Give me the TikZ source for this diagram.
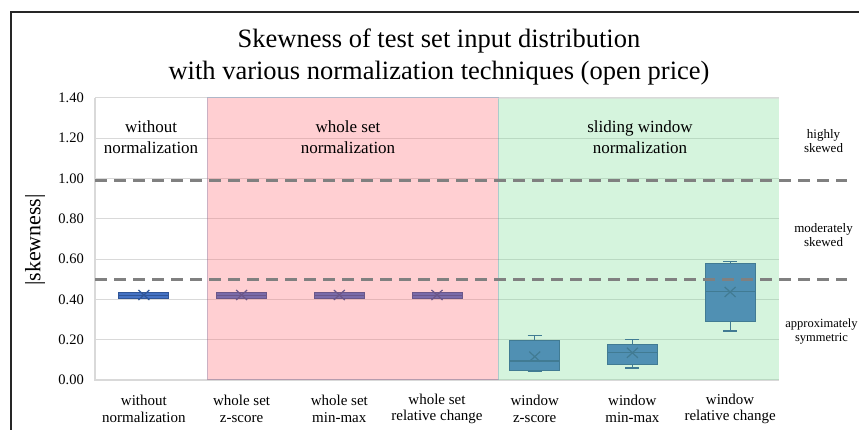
\documentclass[tikz,border=0pt]{standalone}
\usepackage{fontspec}
\setmainfont{Liberation Serif}

\definecolor{boxfill}{RGB}{68,114,196}
\definecolor{boxline}{RGB}{47,85,151}
\definecolor{gridgray}{RGB}{217,217,217}
\definecolor{wholepink}{RGB}{255,93,103}
\definecolor{windowgreen}{RGB}{112,218,138}
\definecolor{dashgray}{RGB}{128,128,128}
\definecolor{framegray}{RGB}{38,38,38}

\tikzset{
  ticklabel/.style={anchor=east, inner sep=0pt, font=\fontsize{14.5}{16}\selectfont},
  catlabel/.style={align=center, inner sep=0pt, font=\fontsize{15}{16.3}\selectfont},
  grouplabel/.style={align=center, inner sep=0pt, font=\fontsize{17}{20.7}\selectfont},
  zonelabel/.style={align=center, inner sep=0pt, font=\fontsize{13}{14}\selectfont},
  skewbox/.style={fill=boxfill, draw=boxline, line width=1pt},
  whisker/.style={draw=boxline, line width=1.2pt},
  limitline/.style={dashgray, line width=2.6pt, dash pattern=on 12pt off 7pt},
}

% #1 x centre, #2 min, #3 q1, #4 median, #5 q3, #6 max, #7 mean
\newcommand{\skewplot}[7]{
  \draw[whisker] (#1,#2) -- (#1,#3) (#1,#5) -- (#1,#6);
  \draw[whisker] (#1-7,#2) -- (#1+7,#2) (#1-7,#6) -- (#1+7,#6);
  \draw[skewbox] (#1-25,#3) rectangle (#1+25,#5);
  \draw[whisker] (#1-25,#4) -- (#1+25,#4);
  \draw[whisker] (#1-5.5,#7-0.025) -- (#1+5.5,#7+0.025) (#1-5.5,#7+0.025) -- (#1+5.5,#7-0.025);
}

\begin{document}
\begin{tikzpicture}[x=1pt, y=1pt]
  \useasboundingbox (0,0) rectangle (859,430);
  \clip (0,0) rectangle (859,430);
  \fill[white] (0,0) rectangle (859,430);
  \draw[framegray, line width=1.6pt] (11,-2) -- (11,418) -- (861,418);

  \node[align=center, font=\fontsize{26.5}{31}\selectfont] (title) at (439,373)
    {Skewness of test set input distribution\\with various normalization techniques (open price)};
  \node[rotate=90, font=\fontsize{22}{24}\selectfont] (ylabel) at (35,190) {|skewness|};

  \begin{scope}[yshift=50pt, y=201.43pt]
    \foreach \v in {0.2,0.4,...,1.4}
      \draw[gridgray, line width=1pt] (95,\v) -- (779,\v);
    \draw[gridgray, line width=1.2pt] (95,1.4) -- (95,0) -- (779,0);

    \skewplot{143.9}{0.405}{0.407}{0.42}{0.433}{0.435}{0.422}
    \skewplot{241.6}{0.405}{0.407}{0.42}{0.433}{0.435}{0.422}
    \skewplot{339.3}{0.405}{0.407}{0.42}{0.433}{0.435}{0.422}
    \skewplot{437.0}{0.405}{0.407}{0.42}{0.433}{0.435}{0.422}
    \skewplot{534.7}{0.043}{0.046}{0.094}{0.194}{0.22}{0.116}
    \skewplot{632.4}{0.06}{0.078}{0.137}{0.177}{0.20}{0.135}
    \skewplot{730.1}{0.243}{0.29}{0.44}{0.58}{0.59}{0.437}

    \begin{scope}[fill opacity=.29]
      \fill[wholepink] (207,0) rectangle (498,1.4);
      \fill[windowgreen] (498,0) rectangle (779,1.4);
    \end{scope}
    \draw[draw=boxline, draw opacity=.25, line width=1pt] (207,0) rectangle (498,1.4);
    \draw[draw=gridgray, draw opacity=.6, line width=0.8pt] (498,1.4) -- (779,1.4);

    \draw[limitline] (95,0.99) -- (847,0.99);
    \draw[limitline] (95,0.5) -- (847,0.5);

    \foreach \v/\t in {0/0.00, 0.2/0.20, 0.4/0.40, 0.6/0.60, 0.8/0.80, 1.0/1.00, 1.2/1.20, 1.4/1.40}
      \node[ticklabel] (tick\t) at (84,\v) {\t};
  \end{scope}

  \node[grouplabel] (without) at (151,293) {without\\normalization};
  \node[grouplabel] (wholeset) at (348,293) {whole set\\normalization};
  \node[grouplabel] (sliding) at (640,293) {sliding window\\normalization};

  \node[zonelabel] (high) at (823.5,289) {highly\\skewed};
  \node[zonelabel] (moderate) at (823.5,195) {moderately\\skewed};
  \node[zonelabel, font=\fontsize{12.5}{14}\selectfont] (symmetric) at (821.5,98) {approximately\\symmetric};

  \foreach \x/\lbl [count=\i] in {143.9/{without\\normalization}, 241.6/{whole set\\z-score},
      339.3/{whole set\\min-max}, 437.0/{whole set\\relative change}, 534.7/{window\\z-score},
      632.4/{window\\min-max}, 730.1/{window\\relative change}}
    \node[catlabel] (cat\i) at (\x,21) {\lbl};
\end{tikzpicture}
\end{document}
